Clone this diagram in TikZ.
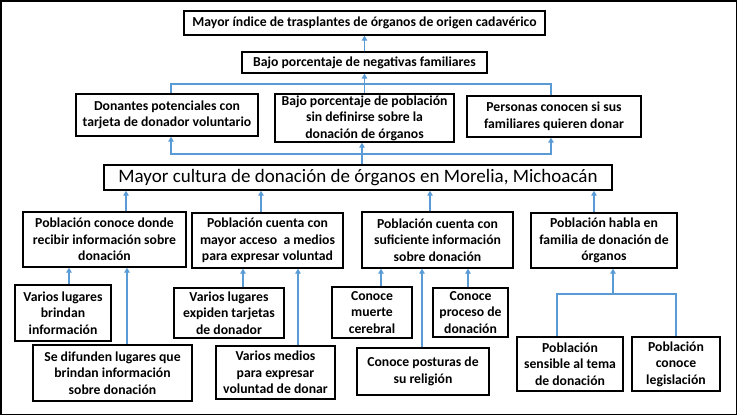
\documentclass[tikz,border=0pt]{standalone}
\usepackage{fontspec}
\setmainfont{Carlito}
\usetikzlibrary{arrows.meta}
\definecolor{conn}{HTML}{5B9BD5}
\begin{document}
\begin{tikzpicture}[x=1pt,y=-1pt,
  box/.style={draw=black,line width=1.4pt,inner sep=0pt,align=center,
    font=\bfseries\fontsize{13.7}{16.5}\selectfont},
  mainbox/.style={draw=black,line width=1.4pt,inner sep=0pt,align=center,
    font=\fontsize{19}{21}\selectfont},
  arr/.style={draw=conn,line width=1.8pt,-{Triangle[length=5pt,width=5.5pt]}},
  ln/.style={draw=conn,line width=1.8pt}]
\useasboundingbox (0,0) rectangle (738,416);
\draw[line width=1.5pt] (0.75,0.75) rectangle (736.3,414.6);

\node[box,minimum width=361,minimum height=24] (top) at (364.5,23) {Mayor índice de trasplantes de órganos de origen cadavérico};
\node[box,minimum width=245,minimum height=21] (b2) at (364.5,62.5) {Bajo porcentaje de negativas familiares};
\node[box,minimum width=182,minimum height=42] (b3a) at (167,115) {Donantes potenciales con\\tarjeta de donador voluntario};
\node[box,minimum width=179,minimum height=48] (b3b) at (364.5,118) {Bajo porcentaje de población\\sin definirse sobre la\\donación de órganos};
\node[box,minimum width=174,minimum height=41] (b3c) at (554,116.5) {Personas conocen si sus\\familiares quieren donar};
\node[mainbox,minimum width=508,minimum height=25] (main) at (358,177.5) {Mayor cultura de donación de órganos en Morelia, Michoacán};

\node[box,minimum width=163,minimum height=55] (n5a) at (104.5,239.5) {Población conoce donde\\recibir información sobre\\donación};
\node[box,minimum width=151,minimum height=55] (n5b) at (267.5,240.5) {Población cuenta con\\mayor acceso\ \ a medios\\para expresar voluntad};
\node[box,minimum width=151,minimum height=56] (n5c) at (437.5,240) {Población cuenta con\\suficiente información\\sobre donación};
\node[box,minimum width=146,minimum height=55] (n5d) at (604,240.5) {Población habla en\\familia de donación de\\órganos};

\node[box,minimum width=96,minimum height=56] (vl) at (63,313) {Varios lugares\\brindan\\información};
\node[box,minimum width=159,minimum height=56] (sd) at (112.5,373) {Se difunden lugares que\\brindan información\\sobre donación};
\node[box,minimum width=110,minimum height=50] (ve) at (229,313) {Varios lugares\\expiden tarjetas\\de donador};
\node[box,minimum width=119,minimum height=53] (vm) at (275.5,372.5) {Varios medios\\para expresar\\voluntad de donar};
\node[box,minimum width=80,minimum height=51] (cm) at (372,312.5) {Conoce\\muerte\\cerebral};
\node[box,minimum width=75,minimum height=49] (cp) at (470.5,312.5) {Conoce\\proceso de\\donación};
\node[box,minimum width=132,minimum height=47] (cr) at (423,371.5) {Conoce posturas de\\su religión};
\node[box,minimum width=106,minimum height=54] (ps) at (570,364) {Población\\sensible al tema\\de donación};
\node[box,minimum width=88,minimum height=54] (pl) at (676,364) {Población\\conoce\\legislación};

% upper levels
\draw[arr] (b2.north) -- (top.south);
\coordinate (ju) at (364.5,84);
\draw[arr] (b3b.north) -- (b2.south);
\draw[ln] (ju) -| ([xshift=4]b3a.north);
\draw[ln] (ju) -| ([xshift=-3]b3c.north);
\coordinate (jl) at (362,154);
\draw[arr] ([xshift=4]main.north) -- ([xshift=4]main.north |- b3b.south);
\draw[arr] (jl) -| ([xshift=4]b3a.south);
\draw[arr] (jl) -| ([xshift=-3]b3c.south);

% level 5 to main
\draw[arr] ([xshift=21.5]n5a.north) -- ([xshift=21.5]n5a.north |- main.south);
\draw[arr] ([xshift=-6.5]n5b.north) -- ([xshift=-6.5]n5b.north |- main.south);
\draw[arr] ([xshift=-7.5]n5c.north) -- ([xshift=-7.5]n5c.north |- main.south);
\draw[arr] ([xshift=-10]n5d.north) -- ([xshift=-10]n5d.north |- main.south);

% bottom level
\draw[arr] ([xshift=6]vl.north) -- ([xshift=6]vl.north |- n5a.south);
\draw[arr] ([xshift=14.5]sd.north) -- ([xshift=14.5]sd.north |- n5a.south);
\draw[arr] ([xshift=14]ve.north) -- ([xshift=14]ve.north |- n5b.south);
\draw[arr] ([xshift=22.5]vm.north) -- ([xshift=22.5]vm.north |- n5b.south);
\draw[arr] ([xshift=9]cm.north) -- ([xshift=9]cm.north |- n5c.south);
\draw[arr] ([xshift=-1]cr.north) -- ([xshift=-1]cr.north |- n5c.south);
\draw[arr] ([xshift=-2.5]cp.north) -- ([xshift=-2.5]cp.north |- n5c.south);
\coordinate (jb) at (613,294);
\draw[arr] (jb) -- (jb |- n5d.south);
\draw[ln] (jb) -| ([xshift=-13]ps.north);
\draw[ln] (jb) -| (pl.north);
\end{tikzpicture}
\end{document}
